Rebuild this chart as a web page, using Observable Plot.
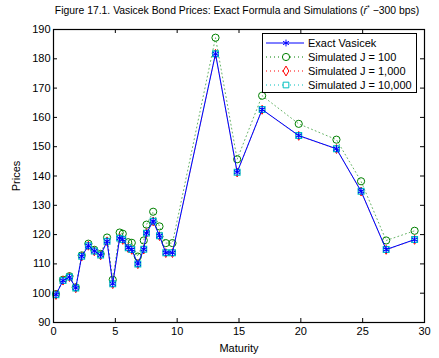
<!DOCTYPE html>
<html><head><meta charset="utf-8">
<script src="https://cdn.jsdelivr.net/npm/d3@7"></script>
<script src="https://cdn.jsdelivr.net/npm/@observablehq/plot@0.6"></script>
<style>
body{margin:0;background:#fff;font-family:"Liberation Sans",Arial,sans-serif;}
#wrap{position:relative;width:439px;height:358px;overflow:hidden;}
#title{position:absolute;left:237px;top:2px;transform:translateX(-50%);white-space:nowrap;font-size:10.4px;line-height:12px;color:#000;}
#legend{position:absolute;left:262px;top:33px;width:155px;height:60px;}
</style></head>
<body>
<div id="wrap">
<div id="title">Figure 17.1. Vasicek Bond Prices: Exact Formula and Simulations (<i>r&#775;</i><sup style="font-size:7px">*</sup> &minus;300 bps)</div>
</div>
<script>
const maturity = [0.2, 0.77, 1.29, 1.8, 2.28, 2.82, 3.3, 3.81, 4.33, 4.79, 5.35, 5.6, 6.04, 6.33, 6.82, 7.3, 7.52, 8.06, 8.57, 9.08, 9.62, 13.1, 14.85, 16.87, 19.83, 22.88, 24.87, 26.9, 29.2];
const exactVasicek = [99.5, 104.3, 105.5, 101.8, 112.6, 116.2, 114.4, 113.0, 117.7, 103.2, 118.8, 118.3, 115.5, 114.9, 110.0, 115.0, 120.5, 124.6, 119.6, 113.8, 113.8, 181.7, 141.3, 162.7, 153.8, 149.3, 134.8, 114.9, 118.3];
const simJ100 = [99.7, 104.6, 105.8, 102.0, 112.9, 116.9, 114.8, 113.4, 119.0, 104.6, 120.7, 120.3, 117.4, 117.2, 112.5, 118.0, 123.4, 127.8, 122.8, 117.1, 117.1, 187.2, 145.7, 167.4, 157.8, 152.4, 138.2, 118.0, 121.3];
const simJ1000 = [99.4, 104.3, 105.5, 101.7, 112.5, 116.2, 114.3, 112.9, 117.7, 103.1, 118.8, 118.2, 115.4, 114.8, 109.9, 114.9, 120.5, 124.5, 119.5, 113.7, 113.7, 181.7, 141.2, 162.6, 153.7, 149.2, 134.7, 114.8, 118.2];
const simJ10000 = [99.5, 104.3, 105.5, 101.8, 112.6, 116.2, 114.4, 113.0, 117.7, 103.2, 118.8, 118.3, 115.5, 114.9, 110.0, 115.0, 120.5, 124.6, 119.6, 113.8, 113.8, 181.7, 141.3, 162.7, 153.8, 149.3, 134.8, 114.9, 118.3];
const xTicks = [0, 5, 10, 15, 20, 25, 30];
const yTicks = [90, 100, 110, 120, 130, 140, 150, 160, 170, 180, 190];
const seriesNames = ["Exact Vasicek", "Simulated J = 100", "Simulated J = 1,000", "Simulated J = 10,000"];

const colors = {exact: "#0000ff", j100: "#008000", j1000: "#ff0000", j10000: "#00bfbf"};
const rows = (ys) => maturity.map((m, i) => ({m, v: ys[i]}));
const dExact = rows(exactVasicek), d100 = rows(simJ100), d1000 = rows(simJ1000), d10000 = rows(simJ10000);

const W = 439, H = 358, mL = 53, mR = 15, mT = 29, mB = 36;
const pw = W - mL - mR, ph = H - mT - mB, tk = 4;

const chart = Plot.plot({
  width: W, height: H,
  marginLeft: mL, marginRight: mR, marginTop: mT, marginBottom: mB,
  style: {fontFamily: "Liberation Sans, Arial, sans-serif", fontSize: "11px", background: "#fff", color: "#000"},
  x: {domain: [0, 30]},
  y: {domain: [90, 190]},
  marks: [
    Plot.axisX({ticks: xTicks, tickSize: 0, tickPadding: 5, fontSize: 11, label: "Maturity", labelAnchor: "center", labelOffset: 29, labelArrow: "none"}),
    Plot.axisY({ticks: yTicks, tickSize: 0, tickPadding: 3, fontSize: 11, label: "Prices", labelAnchor: "center", labelOffset: 41, labelArrow: "none"}),
    Plot.tickX(xTicks, {x: d => d, insetTop: ph - tk, stroke: "#000"}),
    Plot.tickX(xTicks, {x: d => d, insetBottom: ph - tk, stroke: "#000"}),
    Plot.tickY(yTicks, {y: d => d, insetRight: pw - tk, stroke: "#000"}),
    Plot.tickY(yTicks, {y: d => d, insetLeft: pw - tk, stroke: "#000"}),
    Plot.line(d100, {x: "m", y: "v", stroke: colors.j100, strokeWidth: 1, strokeDasharray: "1,3", strokeOpacity: 0.6}),
    Plot.line(d1000, {x: "m", y: "v", stroke: colors.j1000, strokeWidth: 1, strokeDasharray: "1,3", strokeOpacity: 0.5}),
    Plot.line(d10000, {x: "m", y: "v", stroke: colors.j10000, strokeWidth: 1, strokeDasharray: "1,3", strokeOpacity: 0.5}),
    Plot.dot(d100, {x: "m", y: "v", symbol: "circle", r: 3.6, stroke: colors.j100, strokeWidth: 1, fill: "none"}),
    Plot.dot(d1000, {x: "m", y: "v", symbol: "diamond", r: 2.7, stroke: colors.j1000, strokeWidth: 1, fill: "#fff"}),
    Plot.dot(d10000, {x: "m", y: "v", symbol: "square", r: 3.2, stroke: colors.j10000, strokeWidth: 1.3, fill: "#fff"}),
    Plot.line(dExact, {x: "m", y: "v", stroke: colors.exact, strokeWidth: 1}),
    Plot.dot(dExact, {x: "m", y: "v", symbol: "asterisk", r: 3.2, stroke: colors.exact, strokeWidth: 1.1}),
    Plot.frame({stroke: "#000", strokeWidth: 1.2})
  ]
});
document.getElementById("wrap").appendChild(chart);

// legend
const symMap = {asterisk: d3.symbolAsterisk, circle: d3.symbolCircle, diamond: d3.symbolDiamond, square: d3.symbolSquare};
const legendItems = [
  {name: seriesNames[0], color: colors.exact, dash: null, symbol: "asterisk", r: 3.2},
  {name: seriesNames[1], color: colors.j100, dash: "1,3", symbol: "circle", r: 3.6},
  {name: seriesNames[2], color: colors.j1000, dash: "1,3", symbol: "diamond", r: 3.0},
  {name: seriesNames[3], color: colors.j10000, dash: "1,3", symbol: "square", r: 3.2}
];
const lg = d3.select("#wrap").append("svg").attr("id", "legend").attr("width", 155).attr("height", 60);
lg.append("rect").attr("x", 0.5).attr("y", 0.5).attr("width", 154).attr("height", 59).attr("fill", "#fff").attr("stroke", "#000");
legendItems.forEach((it, i) => {
  const cy = 10 + i * 14;
  lg.append("line").attr("x1", 4).attr("x2", 42).attr("y1", cy).attr("y2", cy)
    .attr("stroke", it.color).attr("stroke-width", 1).attr("stroke-dasharray", it.dash);
  lg.append("path").attr("d", d3.symbol(symMap[it.symbol], Math.PI * it.r * it.r)())
    .attr("transform", `translate(24,${cy})`).attr("fill", "#fff").attr("stroke", it.color).attr("stroke-width", 1);
  lg.append("text").attr("x", 46).attr("y", cy).attr("dy", "0.35em").attr("font-size", 11)
    .attr("font-family", "Liberation Sans, Arial, sans-serif").text(it.name);
});
</script>
</body></html>
